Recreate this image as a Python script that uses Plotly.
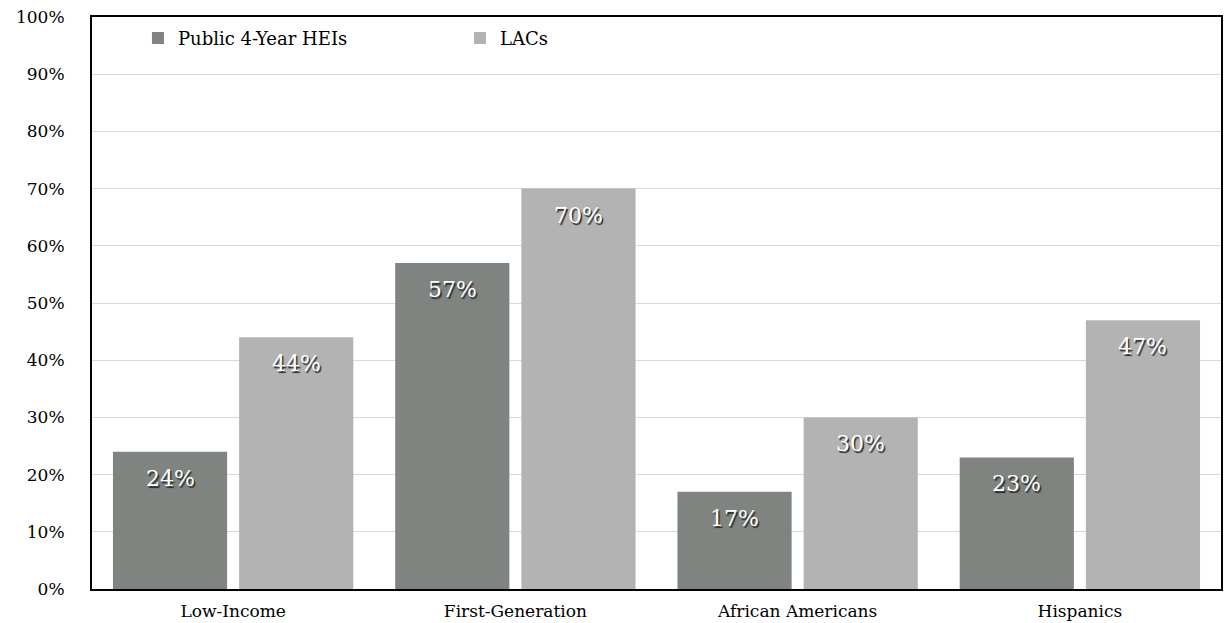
import plotly.graph_objects as go

categories = ["Low-Income", "First-Generation", "African Americans", "Hispanics"]
public_4yr = [0.24, 0.57, 0.17, 0.23]
lacs = [0.44, 0.70, 0.30, 0.47]
series_names = ["Public 4-Year HEIs", "LACs"]
y_ticks = [0, 0.1, 0.2, 0.3, 0.4, 0.5, 0.6, 0.7, 0.8, 0.9, 1.0]

FONT = "DejaVu Serif"
DARK = "#7F8481"
LIGHT = "#B3B3B3"

fig = go.Figure()
fig.add_trace(go.Bar(x=categories, y=public_4yr, name=series_names[0],
                     marker=dict(color=DARK, line=dict(width=0))))
fig.add_trace(go.Bar(x=categories, y=lacs, name=series_names[1],
                     marker=dict(color=LIGHT, line=dict(width=0))))

# value labels inside the top of each bar, white with a dark drop shadow
label_font = dict(family=FONT, size=22, color="white",
                  shadow="1.5px 1.5px 1px #2a2a2a")
for vals, shift in ((public_4yr, -63), (lacs, 63)):
    for cat, v in zip(categories, vals):
        fig.add_annotation(x=cat, y=v, xref="x", yref="y", xshift=shift,
                           yshift=-12, yanchor="top", showarrow=False,
                           text=f"{round(v * 100)}%", font=label_font)

fig.update_layout(
    width=1224, height=623,
    margin=dict(l=92, r=3, t=17, b=34, autoexpand=False),
    paper_bgcolor="white", plot_bgcolor="white",
    barmode="group", bargap=0.106, bargroupgap=0.095,
    font=dict(family=FONT, size=17, color="black"),
    showlegend=True,
    legend=dict(orientation="h", x=0.0407, y=0.995, xanchor="left", yanchor="top",
                font=dict(family=FONT, size=18), bgcolor="rgba(0,0,0,0)",
                itemwidth=30, tracegroupgap=0, entrywidth=277, entrywidthmode="pixels"),
)
fig.update_xaxes(showline=True, linecolor="black", linewidth=2, mirror=True,
                 showgrid=False, ticks="", ticklabelstandoff=6, automargin=False,
                 tickfont=dict(family=FONT, size=17))
fig.update_yaxes(range=[0, 1], tickvals=y_ticks, tickformat=".0%",
                 showline=True, linecolor="black", linewidth=2, mirror=True,
                 showgrid=True, gridcolor="#D9D9D9", gridwidth=1, automargin=False,
                 zeroline=False, ticks="", ticklabelstandoff=22,
                 tickfont=dict(family=FONT, size=17))

fig.write_html("out.html")
